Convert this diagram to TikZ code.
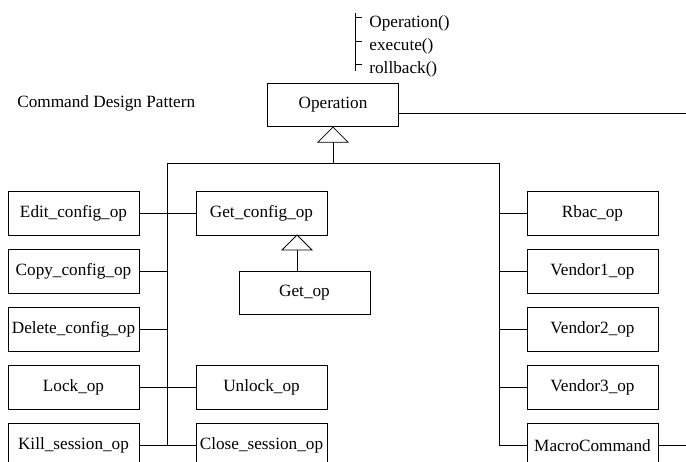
\documentclass[tikz,border=0pt]{standalone}
\usepackage{fontspec}
\setmainfont{Liberation Serif}
\usetikzlibrary{
	positioning
}

\tikzset{
	opbox/.style={draw,minimum width=131pt,minimum height=43.5pt,inner sep=0pt},
	inherit/.pic={\draw[line width=0.8pt,fill=white] (0,0) -- (-15,15) -- (15,15) -- cycle;}
}

\begin{document}
\begin{tikzpicture}[x=1pt,y=-1pt,line width=0.8pt,font=\fontsize{17.2}{20}\selectfont]
		\useasboundingbox (0,0) rectangle (686,461);
		\clip (0,0) rectangle (686,461);

		\node[anchor=base west,inner sep=0pt] (title) at (17,107) {Command Design Pattern};

		% methods
		\node[anchor=base west,inner sep=0pt] (m1) at (369,27) {Operation()};
		\node[anchor=base west,inner sep=0pt] (m2) at (369,50) {execute()};
		\node[anchor=base west,inner sep=0pt] (m3) at (369,73) {rollback()};
		\coordinate (mtop) at (355,13);
		\coordinate (mbot) at (355,71);
		\draw (mtop) -- (mbot);
		\draw (mtop |- 0,17) -- ++(7,0);
		\draw (mtop |- 0,41) -- ++(7,0);
		\draw (mtop |- 0,64) -- ++(7,0);

		\node[opbox] (operation) at (333,105) {Operation};

		% left column
		\node[opbox] (edit) at (73.5,213.5) {Edit\_config\_op};
		\node[opbox,below=13.7pt of edit]   (copy)   {Copy\_config\_op};
		\node[opbox,below=13.7pt of copy]   (delete) {Delete\_config\_op};
		\node[opbox,below=13.7pt of delete] (lock)   {Lock\_op};
		\node[opbox,below=13.7pt of lock]   (kill)   {Kill\_session\_op};

		% middle column
		\node[opbox,right=56.2pt of edit] (getcfg) {Get\_config\_op};
		\node[opbox,below=35.2pt of getcfg,xshift=43pt] (getop) {Get\_op};
		\node[opbox,right=56.2pt of lock] (unlock) {Unlock\_op};
		\node[opbox,right=56.2pt of kill] (close)  {Close\_session\_op};

		% right column
		\node[opbox] (rbac) at (592.5,213.5) {Rbac\_op};
		\node[opbox,below=13.7pt of rbac]    (vendor1) {Vendor1\_op};
		\node[opbox,below=13.7pt of vendor1] (vendor2) {Vendor2\_op};
		\node[opbox,below=13.7pt of vendor2] (vendor3) {Vendor3\_op};
		\node[opbox,below=13.7pt of vendor3] (macro)   {MacroCommand};

		% buses
		\coordinate (ltop) at (167,163);
		\coordinate (rtop) at (499,163);
		\coordinate (opout) at (686,113);
		\coordinate (macout) at (686,443);
		\coordinate (gen2) at (297,235);

		\draw (operation.east |- opout) -- (opout);
		\draw (operation.south) -- (operation.south |- ltop);
		\draw (ltop) -- (rtop);
		\draw (ltop) -- (ltop |- kill);
		\draw (rtop) -- (rtop |- macro);
		\pic at (operation.south) {inherit};

		\draw (edit) -- (getcfg);
		\draw (copy.east) -- (copy.east -| ltop);
		\draw (delete.east) -- (delete.east -| ltop);
		\draw (lock) -- (unlock);
		\draw (kill) -- (close);

		\draw (gen2) -- (gen2 |- getop.north);
		\pic at (gen2) {inherit};

		\draw (rbac.west) -- (rbac.west -| rtop);
		\draw (vendor1.west) -- (vendor1.west -| rtop);
		\draw (vendor2.west) -- (vendor2.west -| rtop);
		\draw (vendor3.west) -- (vendor3.west -| rtop);
		\draw (macro.west) -- (macro.west -| rtop);
		\draw (macro.east) -- (macro.east -| macout);
\end{tikzpicture}
\end{document}
